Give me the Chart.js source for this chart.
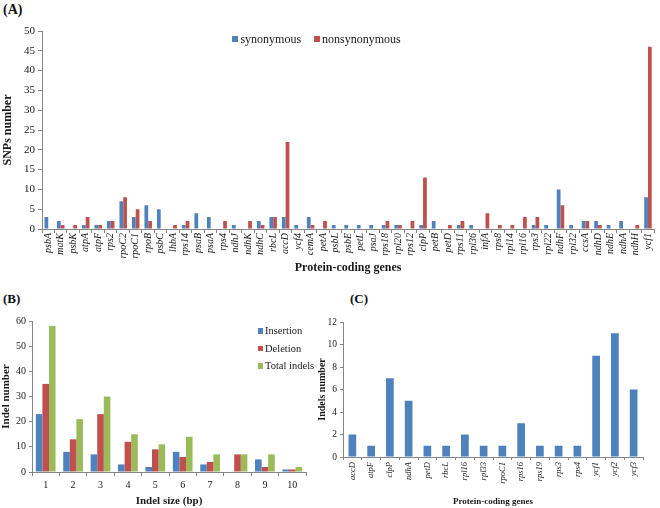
<!DOCTYPE html>
<html><head><meta charset="utf-8">
<script src="https://cdn.jsdelivr.net/npm/chart.js@4.4.0/dist/chart.umd.min.js"></script>
<style>
html,body{margin:0;padding:0;background:#fff;width:660px;height:508px;overflow:hidden;font-family:"Liberation Serif","Times New Roman",serif;color:#1a1a1a;}
.box{position:absolute;}
.plabel{position:absolute;font-weight:bold;line-height:1;color:#111;}
.legend{position:absolute;color:#1a1a1a;}
.legend .it{display:flex;align-items:center;white-space:nowrap;}
.legend .sw{display:inline-block;}
#legA{display:flex;flex-direction:row;font-size:12px;line-height:12px;}
#legA .it{margin-right:12.6px;}
#legA .sw{width:6px;height:6px;margin-right:2.4px;}
#legB{display:flex;flex-direction:column;font-size:10.5px;line-height:17.7px;}
#legB .sw{width:5px;height:5.6px;margin-right:2px;}
</style></head>
<body>
<div class="plabel" style="left:3px;top:3px;font-size:14px;">(A)</div>
<div class="plabel" style="left:3px;top:292px;font-size:13px;">(B)</div>
<div class="plabel" style="left:350px;top:292px;font-size:13px;">(C)</div>
<div class="box" style="left:0;top:0;width:660px;height:282px;"><canvas id="cA" width="660" height="282"></canvas></div>
<div class="box" style="left:0;top:282px;width:330px;height:226px;"><canvas id="cB" width="330" height="226"></canvas></div>
<div class="box" style="left:310px;top:282px;width:350px;height:226px;"><canvas id="cC" width="350" height="226"></canvas></div>
<div id="legA" class="legend" style="left:232px;top:33px;"></div>
<div id="legB" class="legend" style="left:258px;top:322px;"></div>
<script>
// ---------- Data ----------
const genesA = ['psbA','matK','psbK','atpA','atpF','rps2','rpoC2','rpoC1','rpoB','psbC','lhbA','rps14','psaB','psaA','rps4','ndhJ','ndhK','ndhC','rbcL','accD','ycf4','cemA','petA','psbL','psbE','petL','psaJ','rps18','rpl20','rps12','clpP','petB','petD','rps11','rpl36','infA','rps8','rpl14','rpl16','rps3','rpl22','ndhF','rpl32','ccsA','ndhD','ndhE','ndhA','ndhH','ycf1'];
const synonymous =    [3,2,0,1,1,2,7,3,6,5,0,1,4,3,0,1,0,2,3,3,1,3,0,1,1,1,1,1,1,0,1,2,0,1,1,0,0,0,0,1,1,10,1,2,2,1,2,0,8];
const nonsynonymous = [0,1,1,3,1,2,8,5,2,0,1,2,0,0,2,0,2,1,3,22,0,1,2,0,0,0,0,2,1,2,13,0,1,2,0,4,1,1,3,3,0,6,0,2,1,0,0,1,46];

const indelSizes = ['1','2','3','4','5','6','7','8','9','10'];
const insertion   = [23,8,7,3,2,8,3,0,5,1];
const deletion    = [35,13,23,12,9,6,4,7,2,1];
const totalIndels = [58,21,30,15,11,14,7,7,7,2];

const genesC  = ['accD','atpF','clpP','ndhA','petD','rbcL','rpl16','rpl33','rpoC1','rps16','rps19','rps3','rps4','ycf1','ycf2','ycf3'];
const indelsC = [2,1,7,5,1,1,2,1,1,3,1,1,1,9,11,6];

const BLUE = '#4F81BD', RED = '#C0504D', GREEN = '#9BBB59';
const AXIS = '#868686', TXT = '#1a1a1a';
const FAM = '"Liberation Serif","Times New Roman",serif';

// HTML legend built from chart datasets
const htmlLegend = {
  id: 'htmlLegend',
  afterUpdate(chart, args, opts) {
    const el = document.getElementById(opts.containerID);
    if (!el) return;
    el.innerHTML = '';
    chart.options.plugins.legend.labels.generateLabels(chart).forEach(item => {
      const it = document.createElement('div'); it.className = 'it';
      const sw = document.createElement('span'); sw.className = 'sw'; sw.style.background = item.fillStyle;
      const tx = document.createElement('span'); tx.textContent = item.text;
      it.appendChild(sw); it.appendChild(tx); el.appendChild(it);
    });
  }
};

Chart.defaults.font.family = FAM;
Chart.defaults.color = TXT;
Chart.defaults.animation = false;
Chart.defaults.devicePixelRatio = 1;

function axisGrid(len) {
  return { display: true, drawOnChartArea: false, drawTicks: true, tickLength: len, color: AXIS, lineWidth: 1 };
}

// ---------- Panel A ----------
new Chart(document.getElementById('cA'), {
  type: 'bar',
  data: {
    labels: genesA,
    datasets: [
      { label: 'synonymous', data: synonymous, backgroundColor: BLUE, borderWidth: 0 },
      { label: 'nonsynonymous', data: nonsynonymous, backgroundColor: RED, borderWidth: 0 }
    ]
  },
  options: {
    responsive: false,
    categoryPercentage: 0.6, barPercentage: 1.0,
    layout: { padding: { top: 31, right: 4, left: 0, bottom: 0 } },
    plugins: { legend: { display: false }, tooltip: { enabled: false }, htmlLegend: { containerID: 'legA' } },
    scales: {
      x: {
        afterFit: s => { s.height = 53; },
        grid: axisGrid(4), border: { display: true, color: AXIS },
        ticks: { autoSkip: false, minRotation: 90, maxRotation: 90, padding: 0, color: TXT, font: { size: 10, style: 'italic' } },
        title: { display: true, text: 'Protein-coding genes', color: TXT, font: { size: 12, weight: 'bold' }, padding: { top: 0, bottom: 7 } }
      },
      y: {
        min: 0, max: 50,
        afterFit: s => { s.width = 42; },
        grid: axisGrid(4), border: { display: true, color: AXIS },
        ticks: { stepSize: 5, padding: 3, color: TXT, font: { size: 11 } },
        title: { display: true, text: 'SNPs number', color: TXT, font: { size: 12, weight: 'bold' }, padding: { top: 1, bottom: 0 } }
      }
    }
  },
  plugins: [htmlLegend]
});

// ---------- Panel B ----------
new Chart(document.getElementById('cB'), {
  type: 'bar',
  data: {
    labels: indelSizes,
    datasets: [
      { label: 'Insertion', data: insertion, backgroundColor: BLUE, borderWidth: 0 },
      { label: 'Deletion', data: deletion, backgroundColor: RED, borderWidth: 0 },
      { label: 'Total indels', data: totalIndels, backgroundColor: GREEN, borderWidth: 0 }
    ]
  },
  options: {
    responsive: false,
    categoryPercentage: 0.72, barPercentage: 1.0,
    layout: { padding: { top: 39, right: 24, left: 0, bottom: 0 } },
    plugins: { legend: { display: false }, tooltip: { enabled: false }, htmlLegend: { containerID: 'legB' } },
    scales: {
      x: {
        afterFit: s => { s.height = 36; },
        grid: axisGrid(4), border: { display: true, color: AXIS },
        ticks: { padding: 3, color: TXT, font: { size: 10 } },
        title: { display: true, text: 'Indel size (bp)', color: TXT, font: { size: 11, weight: 'bold' }, padding: { top: 0, bottom: 0 } }
      },
      y: {
        min: 0, max: 60,
        afterFit: s => { s.width = 32; },
        grid: axisGrid(3), border: { display: true, color: AXIS },
        ticks: { stepSize: 10, padding: 3, color: TXT, font: { size: 10 } },
        title: { display: true, text: 'Indel number', color: TXT, font: { size: 11, weight: 'bold' }, padding: { top: 0, bottom: 0 } }
      }
    }
  },
  plugins: [htmlLegend]
});

// ---------- Panel C ----------
new Chart(document.getElementById('cC'), {
  type: 'bar',
  data: {
    labels: genesC,
    datasets: [
      { label: 'Indels', data: indelsC, backgroundColor: BLUE, borderWidth: 0 }
    ]
  },
  options: {
    responsive: false,
    categoryPercentage: 1.0, barPercentage: 0.41,
    layout: { padding: { top: 40, right: 17, left: 0, bottom: 0 } },
    plugins: { legend: { display: false }, tooltip: { enabled: false } },
    scales: {
      x: {
        afterFit: s => { s.height = 51; },
        grid: axisGrid(3), border: { display: true, color: AXIS },
        ticks: { autoSkip: false, minRotation: 90, maxRotation: 90, padding: 2, color: TXT, font: { size: 8.5, style: 'italic' } },
        title: { display: true, text: 'Protein-coding genes', color: TXT, font: { size: 9, weight: 'bold' }, padding: { top: 0, bottom: 1 } }
      },
      y: {
        min: 0, max: 12,
        afterFit: s => { s.width = 33; },
        grid: axisGrid(3), border: { display: true, color: AXIS },
        ticks: { stepSize: 2, padding: 3, color: TXT, font: { size: 9.5 } },
        title: { display: true, text: 'Indels number', color: TXT, font: { size: 10, weight: 'bold' }, padding: { top: 6, bottom: 0 } }
      }
    }
  }
});
</script>
</body></html>
